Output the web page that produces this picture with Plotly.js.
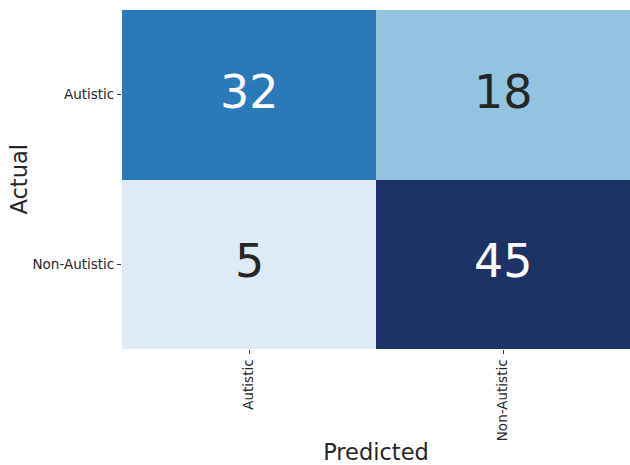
<!DOCTYPE html>
<html><head><meta charset="utf-8">
<script src="https://cdn.plot.ly/plotly-3.0.1.min.js"></script>
<style>html,body{margin:0;padding:0;background:#fff}</style>
</head><body><div id="chart" style="width:630px;height:465px"></div>
<script>
const predictedLabels = ["Autistic", "Non-Autistic"];
const actualLabels = ["Autistic", "Non-Autistic"];
const counts = [[32, 18], [5, 45]];
const xTitle = "Predicted";
const yTitle = "Actual";

const annotations = [];
actualLabels.forEach((a, i) => {
  predictedLabels.forEach((p, j) => {
    const v = counts[i][j];
    annotations.push({
      x: p, y: a, xref: 'x', yref: 'y', text: String(v), showarrow: false, yshift: 3,
      font: {family: 'DejaVu Sans', size: 46, color: v > 25 ? '#ffffff' : '#262626'}
    });
  });
});
annotations.push({
  text: yTitle, xref: 'paper', yref: 'paper', x: 0, y: 0.5, xanchor: 'center', yanchor: 'middle',
  xshift: -104, textangle: -90, showarrow: false,
  font: {family: 'DejaVu Sans', size: 22.5, color: '#262626'}
});

const trace = {
  type: 'heatmap', x: predictedLabels, y: actualLabels, z: counts,
  colorscale: [[0, '#deebf7'], [0.325, '#93c4df'], [0.675, '#2a7aba'], [1, '#1f3267']],
  zmin: 5, zmax: 45, showscale: false, xgap: 0, ygap: 0, hoverinfo: 'skip'
};

const layout = {
  width: 630, height: 465,
  margin: {l: 122, r: 0, t: 10, b: 116},
  paper_bgcolor: '#fff', plot_bgcolor: '#fff',
  font: {family: 'DejaVu Sans', color: '#262626'},
  xaxis: {
    title: {text: xTitle, font: {size: 22.5, color: '#262626'}, standoff: 8},
    tickangle: -90, ticks: 'outside', ticklen: 4, tickcolor: '#333', tickwidth: 1,
    tickfont: {size: 13.5, color: '#262626'}, showgrid: false, zeroline: false, showline: false
  },
  yaxis: {
    autorange: 'reversed', ticks: 'outside', ticklen: 4, tickcolor: '#333', tickwidth: 1,
    tickfont: {size: 13.5, color: '#262626'}, showgrid: false, zeroline: false, showline: false
  },
  annotations: annotations
};

Plotly.newPlot('chart', [trace], layout, {displayModeBar: false, staticPlot: true});
</script></body></html>
